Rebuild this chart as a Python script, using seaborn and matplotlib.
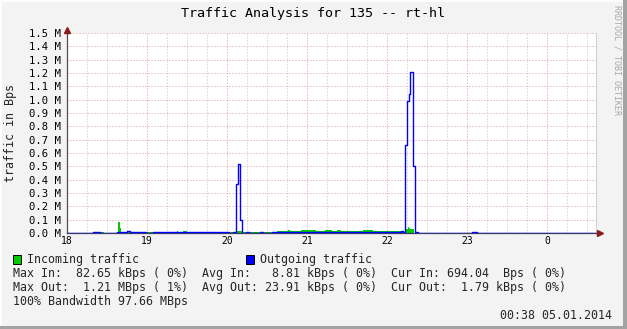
import matplotlib
matplotlib.use("Agg")
import matplotlib.pyplot as plt
import seaborn as sns
import pandas as pd
from matplotlib.patches import Rectangle

# ---------------- data (hours since 18:00 clock, values in MBps) ----------------
out_t = [18.00, 18.329, 18.409, 18.629, 18.75, 18.784, 18.984, 19.075, 19.171, 19.191,
         19.8625, 19.879, 20.029, 20.079, 20.116, 20.141, 20.166, 20.191, 20.2375, 20.275,
         20.4125, 20.45, 20.559, 22.175, 22.204, 22.229, 22.254, 22.279, 22.291, 22.329,
         22.346, 22.384, 23.0625, 23.121, 24.6125]
out_v = [0.0, 0.008, 0.0, 0.008, 0.015, 0.008, 0.0, 0.008, 0.0, 0.008,
         0.0, 0.008, 0.0, 0.008, 0.365, 0.52, 0.095, 0.0, 0.008, 0.0,
         0.008, 0.0, 0.008, 0.017, 0.008, 0.66, 0.99, 1.04, 1.205, 0.50,
         0.008, 0.0, 0.008, 0.0, 0.0]

in_t = [18.00, 18.329, 18.46, 18.6375, 18.6625, 18.679, 19.0375, 19.05, 19.371, 19.384,
        19.45, 19.5, 20.12, 20.184, 20.35, 20.41, 20.454, 20.5375, 20.621, 20.766,
        20.7875, 20.925, 21.1125, 21.225, 21.309, 21.371, 21.425, 21.696, 21.829, 22.175,
        22.1875, 22.229, 22.2375, 22.259, 22.275, 22.2875, 22.341, 24.6125]
in_v = [0.0, 0.006, 0.0, 0.083, 0.04, 0.004, 0.008, 0.004, 0.012, 0.004,
        0.012, 0.004, 0.015, 0.004, 0.01, 0.005, 0.01, 0.006, 0.015, 0.022,
        0.015, 0.022, 0.015, 0.022, 0.015, 0.022, 0.015, 0.022, 0.015, 0.012,
        0.01, 0.025, 0.03, 0.045, 0.04, 0.03, 0.0, 0.0]

x_ticks = [18, 19, 20, 21, 22, 23, 24]
x_labels = ["18", "19", "20", "21", "22", "23", "0"]
y_ticks = [0.0, 0.1, 0.2, 0.3, 0.4, 0.5, 0.6, 0.7, 0.8, 0.9, 1.0, 1.1, 1.2, 1.3, 1.4, 1.5]

title = "Traffic Analysis for 135 -- rt-hl"
ylabel = "traffic in Bps"
legend_in = "Incoming traffic"
legend_out = "Outgoing traffic"
stats_rows = [
    "Max In:  82.65 kBps ( 0%)  Avg In:   8.81 kBps ( 0%)  Cur In: 694.04  Bps ( 0%)",
    "Max Out:  1.21 MBps ( 1%)  Avg Out: 23.91 kBps ( 0%)  Cur Out:  1.79 kBps ( 0%)",
    "100% Bandwidth 97.66 MBps",
]
stamp = "00:38 05.01.2014"
watermark = "RRDTOOL / TOBI OETIKER"

# ---------------- figure ----------------
sns.set_theme(style="white")
plt.rcParams["font.family"] = ["DejaVu Sans Mono"]

W, H = 627, 329
BG = "#f3f3f3"
fig = plt.figure(figsize=(W / 100, H / 100), dpi=100, facecolor=BG)

def fx(x):
    return x / W

def fy(y):
    return 1 - y / H

ax = fig.add_axes([fx(67), fy(233), (596 - 67) / W, 200 / H])
ax.set_facecolor("white")

df_out = pd.DataFrame({"t": out_t, "v": out_v})
df_in = pd.DataFrame({"t": in_t, "v": in_v})

ax.fill_between(df_in["t"], df_in["v"], step="post", color="#00cc00", lw=0, zorder=2)
sns.lineplot(data=df_out, x="t", y="v", ax=ax, estimator=None, sort=False,
             drawstyle="steps-post", color="#0000ff", lw=1.0, zorder=3)

ax.set_xlim(18, 24.6125)
ax.set_ylim(0, 1.5)
ax.set_xlabel("")
ax.set_ylabel("")

# grid
minor = [18 + i * 0.25 for i in range(0, 27)]
ax.set_xticks(minor, minor=True)
ax.set_xticks(x_ticks)
ax.set_xticklabels(x_labels, fontsize=7)
ax.set_yticks(y_ticks)
ax.set_yticklabels([f"{v:.1f} M" for v in y_ticks], fontsize=7.6)
ax.tick_params(axis="both", which="both", length=0)
ax.tick_params(axis="y", pad=4.5, colors="black")
ax.tick_params(axis="x", pad=2.5, colors="black")
ax.set_axisbelow(True)
ax.grid(True, which="major", color="#e29a9a", lw=0.72, ls=(0, (1, 2)))
ax.grid(True, which="minor", axis="x", color="#c4c4c4", lw=0.72, ls=(0, (1, 2)))

ax.spines["top"].set_visible(False)
ax.spines["right"].set_color("#d0d0d0")
ax.spines["right"].set_linewidth(0.72)
ax.spines["left"].set_color("#5a4a4a")
ax.spines["left"].set_linewidth(0.9)
ax.spines["bottom"].set_color("#3a3a6a")
ax.spines["bottom"].set_linewidth(0.9)

# axis extensions and arrows
ax.plot([0, 0], [1.0, 1.02], transform=ax.transAxes, color="#5a4a4a", lw=0.9, clip_on=False)
ax.plot([1.0, 1.008], [0, 0], transform=ax.transAxes, color="#3a3a6a", lw=0.9, clip_on=False)
ax.plot([0], [(233 - 30) / 200], marker="^", ms=5, color="#8b1a1a", mec="#8b1a1a",
        transform=ax.transAxes, clip_on=False, zorder=5)
ax.plot([(600 - 67) / 529], [0], marker=">", ms=5, color="#8b1a1a", mec="#8b1a1a",
        transform=ax.transAxes, clip_on=False, zorder=5)

# texts
fig.text(fx(313), fy(13), title, ha="center", va="center", fontsize=9.6, color="black")
fig.text(fx(11), fy(133), ylabel, ha="center", va="center", rotation=90, fontsize=8.4)
fig.text(fx(617), fy(60), watermark, ha="center", va="center", rotation=270,
         fontsize=6, color="#a8a8a8")

# legend
fig.patches.append(Rectangle((fx(13), fy(263.5)), 8 / W, 9 / H, transform=fig.transFigure,
                             facecolor="#00cc00", edgecolor="black", lw=0.7))
fig.text(fx(27), fy(259.3), legend_in, ha="left", va="center", fontsize=8.4)
fig.patches.append(Rectangle((fx(246), fy(263.5)), 8 / W, 9 / H, transform=fig.transFigure,
                             facecolor="#0000ff", edgecolor="black", lw=0.7))
fig.text(fx(260), fy(259.3), legend_out, ha="left", va="center", fontsize=8.4)

for i, row in enumerate(stats_rows):
    fig.text(fx(13), fy(273.3 + 14 * i), row, ha="left", va="center", fontsize=8.4)
fig.text(fx(612), fy(315.5), stamp, ha="right", va="center", fontsize=8.4)

# 3D frame
fig.patches.append(Rectangle((0, fy(2)), 1, 2 / H, transform=fig.transFigure,
                             facecolor="#fdfdfd", edgecolor="none"))
fig.patches.append(Rectangle((0, 0), 2 / W, 1, transform=fig.transFigure,
                             facecolor="#fdfdfd", edgecolor="none"))
fig.patches.append(Rectangle((fx(623), 0), 4 / W, 1, transform=fig.transFigure,
                             facecolor="#a3a3a3", edgecolor="none"))
fig.patches.append(Rectangle((0, 0), 1, 3 / H, transform=fig.transFigure,
                             facecolor="#a3a3a3", edgecolor="none"))

fig.savefig("out.png", dpi=100, facecolor=BG)
